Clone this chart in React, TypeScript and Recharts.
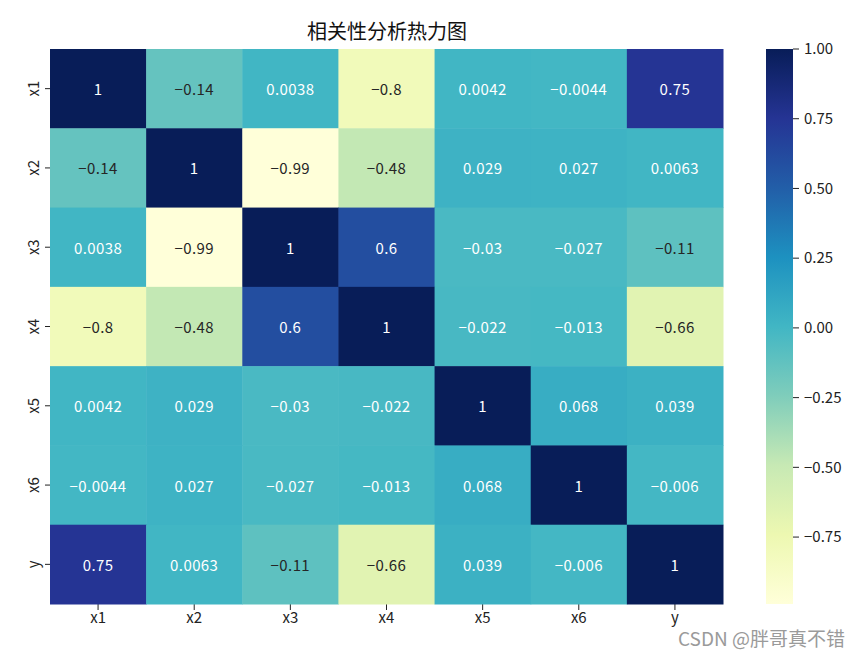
import { ScatterChart, Scatter, XAxis, YAxis, BarChart, Bar } from "recharts"

const LABELS = ["x1", "x2", "x3", "x4", "x5", "x6", "y"]

// correlation matrix, row by row (x1 .. y)
const ROW_X1 = [1, -0.14, 0.0038, -0.8, 0.0042, -0.0044, 0.75]
const ROW_X2 = [-0.14, 1, -0.99, -0.48, 0.029, 0.027, 0.0063]
const ROW_X3 = [0.0038, -0.99, 1, 0.6, -0.03, -0.027, -0.11]
const ROW_X4 = [-0.8, -0.48, 0.6, 1, -0.022, -0.013, -0.66]
const ROW_X5 = [0.0042, 0.029, -0.03, -0.022, 1, 0.068, 0.039]
const ROW_X6 = [-0.0044, 0.027, -0.027, -0.013, 0.068, 1, -0.006]
const ROW_Y = [0.75, 0.0063, -0.11, -0.66, 0.039, -0.006, 1]
const ROWS = [ROW_X1, ROW_X2, ROW_X3, ROW_X4, ROW_X5, ROW_X6, ROW_Y]

const VMIN = -0.99
const VMAX = 1
const CBAR_TICKS = [-0.75, -0.5, -0.25, 0, 0.25, 0.5, 0.75, 1]

// YlGnBu
const PALETTE = [
  "#ffffd9", "#edf8b1", "#c7e9b4", "#7fcdbb", "#41b6c4",
  "#1d91c0", "#225ea8", "#253494", "#081d58",
]

const FONT = '"Noto Sans CJK SC", "DejaVu Sans", sans-serif'

// plot area
const PLOT_W = 673
const PLOT_H = 555
const CELL_W = PLOT_W / 7
const CELL_H = PLOT_H / 7

function hexToRgb(h: string) {
  return [1, 3, 5].map((i) => parseInt(h.slice(i, i + 2), 16))
}

function colorFor(v: number) {
  const t = Math.min(1, Math.max(0, (v - VMIN) / (VMAX - VMIN))) * (PALETTE.length - 1)
  const i = Math.min(PALETTE.length - 2, Math.floor(t))
  const f = t - i
  const a = hexToRgb(PALETTE[i])
  const b = hexToRgb(PALETTE[i + 1])
  return a.map((c, k) => Math.round(c + (b[k] - c) * f))
}

function luminance(rgb: number[]) {
  const lin = rgb.map((c) => {
    const s = c / 255
    return s <= 0.03928 ? s / 12.92 : Math.pow((s + 0.055) / 1.055, 2.4)
  })
  return 0.2126 * lin[0] + 0.7152 * lin[1] + 0.0722 * lin[2]
}

const fmt = (v: number) => String(Number(v.toPrecision(2))).replace("-", "\u2212")

const cells = ROWS.flatMap((row, r) =>
  row.map((v, c) => ({ x: c + 0.5, y: r + 0.5, v }))
)

const CellShape = (props: any) => {
  const { cx, cy, payload } = props
  const rgb = colorFor(payload.v)
  const txt = luminance(rgb) > 0.408 ? "#262626" : "#ffffff"
  return (
    <g>
      <rect
        x={cx - CELL_W / 2}
        y={cy - CELL_H / 2}
        width={CELL_W + 0.5}
        height={CELL_H + 0.5}
        fill={`rgb(${rgb.join(",")})`}
      />
      <text
        x={cx}
        y={cy}
        textAnchor="middle"
        dominantBaseline="central"
        fill={txt}
        fontSize={15}
        letterSpacing={0.4}
        fontFamily={FONT}
      >
        {fmt(payload.v)}
      </text>
    </g>
  )
}

const YTick = (props: any) => {
  const { x, y, payload } = props
  return (
    <text
      x={0}
      y={0}
      transform={`translate(${x - 4},${y}) rotate(-90)`}
      textAnchor="middle"
      fill="#222"
      fontSize={15}
      fontFamily={FONT}
    >
      {LABELS[Math.floor(payload.value)]}
    </text>
  )
}

const tickVals = LABELS.map((_, i) => i + 0.5)

export default function App() {
  return (
    <div style={{ position: "relative", width: 865, height: 658, margin: -8, background: "#fff", fontFamily: FONT }}>
      <div style={{ position: "absolute", left: 0, top: 0 }}>
        <ScatterChart width={740} height={640} margin={{ top: 49, right: 17, left: 0, bottom: 0 }}>
          <XAxis
            type="number"
            dataKey="x"
            domain={[0, 7]}
            ticks={tickVals}
            tickFormatter={(v: number) => LABELS[Math.floor(v)]}
            axisLine={false}
            tickLine={{ stroke: "#222" }}
            tickSize={6}
            height={36}
            tick={{ fill: "#222", fontSize: 15, fontFamily: FONT }}
            interval={0}
          />
          <YAxis
            type="number"
            dataKey="y"
            domain={[0, 7]}
            reversed
            ticks={tickVals}
            axisLine={false}
            tickLine={{ stroke: "#222" }}
            tickSize={5}
            width={50}
            tick={<YTick />}
            interval={0}
          />
          <Scatter data={cells} shape={<CellShape />} isAnimationActive={false} />
          <text x={387} y={39} textAnchor="middle" fontSize={20} fill="#111" fontFamily={FONT}>
            相关性分析热力图
          </text>
        </ScatterChart>
      </div>

      <div style={{ position: "absolute", left: 766, top: 0 }}>
        <BarChart
          width={99}
          height={640}
          data={[{ name: "cb", range: [VMIN, VMAX] }]}
          margin={{ top: 49, right: 0, left: 0, bottom: 36 }}
          barCategoryGap={0}
        >
          <defs>
            <linearGradient id="cbGrad" x1="0" y1="0" x2="0" y2="1">
              {PALETTE.slice().reverse().map((c, i) => (
                <stop key={i} offset={i / (PALETTE.length - 1)} stopColor={c} />
              ))}
            </linearGradient>
          </defs>
          <XAxis dataKey="name" hide />
          <YAxis
            orientation="right"
            type="number"
            domain={[VMIN, VMAX]}
            ticks={CBAR_TICKS}
            allowDataOverflow
            width={72}
            axisLine={false}
            tickLine={{ stroke: "#222" }}
            tickSize={6}
            tickMargin={5}
            tickFormatter={(v: number) => v.toFixed(2).replace("-", "\u2212")}
            tick={{ fill: "#222", fontSize: 15, fontFamily: FONT }}
            interval={0}
          />
          <Bar dataKey="range" fill="url(#cbGrad)" isAnimationActive={false} />
        </BarChart>
      </div>

      <div
        style={{
          position: "absolute",
          left: 678,
          top: 624,
          fontSize: 19,
          color: "#9a9a9a",
          fontFamily: FONT,
          whiteSpace: "nowrap",
        }}
      >
        CSDN @胖哥真不错
      </div>
    </div>
  )
}
